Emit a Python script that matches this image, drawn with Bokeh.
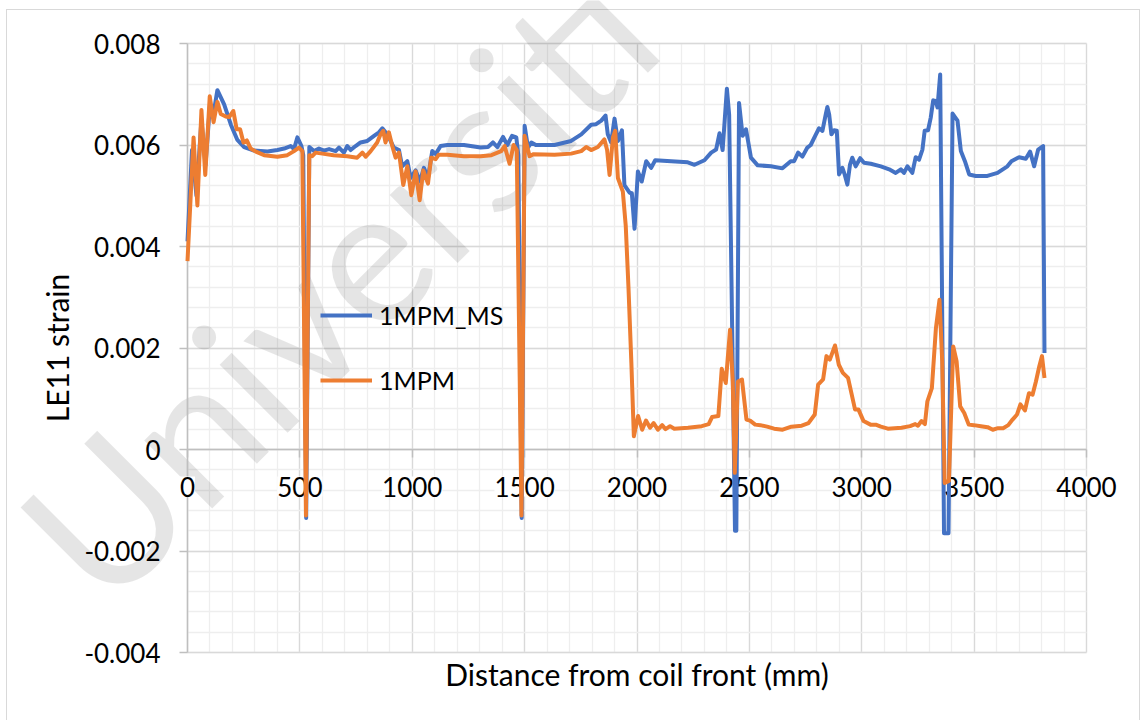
from bokeh.plotting import figure
from bokeh.models import (FixedTicker, LinearAxis, Legend, LegendItem, Label, LabelSet, Grid,
                          ColumnDataSource, CustomJSTickFormatter, Range1d)
from bokeh.core.properties import value
from bokeh.embed import file_html
from bokeh.resources import INLINE

# ---------------- data ----------------
dist_ms = [0, 20, 40, 62, 80, 100, 115, 133, 163, 193, 222, 252, 296, 356, 400, 430, 459, 474, 489, 507,
           515, 528, 542, 563, 585, 607, 630, 659, 674, 696, 711, 726, 748, 770, 800, 830, 852, 867, 881, 896,
           918, 941, 955, 978, 993, 1015, 1034, 1052, 1070, 1089, 1104, 1126, 1156, 1230, 1304, 1337, 1359, 1379, 1404, 1423,
           1444, 1463, 1472, 1487, 1500, 1515, 1530, 1550, 1633, 1707, 1752, 1796, 1818, 1841, 1860, 1870, 1885, 1900, 1915, 1933,
           1944, 1967, 1977, 1989, 2004, 2021, 2041, 2063, 2081, 2152, 2226, 2256, 2300, 2330, 2352, 2367, 2381, 2400, 2410, 2436,
           2442, 2454, 2470, 2485, 2507, 2537, 2596, 2647, 2684, 2699, 2717, 2736, 2758, 2773, 2795, 2810, 2825, 2840, 2847, 2855,
           2865, 2877, 2889, 2899, 2914, 2924, 2936, 2948, 2958, 2973, 2993, 3010, 3040, 3085, 3122, 3151, 3174, 3188, 3203, 3225,
           3240, 3255, 3270, 3280, 3295, 3307, 3318, 3329, 3337, 3349, 3366, 3386, 3404, 3426, 3441, 3459, 3478, 3507, 3559, 3604,
           3648, 3666, 3700, 3730, 3749, 3767, 3785, 3807, 3813]
strain_ms = [0.0041, 0.0059, 0.0050, 0.0065, 0.0056, 0.0068, 0.0066, 0.00708, 0.0068, 0.0064, 0.0061, 0.00596, 0.00589, 0.00587, 0.0059, 0.00593, 0.00598, 0.00592, 0.00615, 0.00598,
             0.0058, -0.00135, 0.00596, 0.00588, 0.00593, 0.00589, 0.00592, 0.00588, 0.00595, 0.00585, 0.00598, 0.0059, 0.00598, 0.00605, 0.00608, 0.00618, 0.00625, 0.00633, 0.00625, 0.00615,
             0.00595, 0.0059, 0.00558, 0.00568, 0.00535, 0.0055, 0.00528, 0.00555, 0.00535, 0.00588, 0.00582, 0.00598, 0.006, 0.006, 0.00595, 0.00596, 0.00605, 0.00596, 0.00616, 0.006,
             0.00618, 0.00615, 0.0058, -0.00135, 0.00638, 0.00595, 0.00605, 0.006, 0.006, 0.00608, 0.00621, 0.0064, 0.00641, 0.00648, 0.00658, 0.00621, 0.00605, 0.00652, 0.00608, 0.00629,
             0.00521, 0.00506, 0.00505, 0.00435, 0.00548, 0.00528, 0.00568, 0.00555, 0.0057, 0.00568, 0.00566, 0.00561, 0.0057, 0.00585, 0.00591, 0.00623, 0.0059, 0.00711, 0.0066, -0.0016,
             -0.0016, 0.00683, 0.00618, 0.00631, 0.00575, 0.0056, 0.00558, 0.00554, 0.00568, 0.00568, 0.00585, 0.00577, 0.00595, 0.006, 0.0062, 0.00633, 0.00628, 0.00661, 0.00675, 0.0066,
             0.00621, 0.00629, 0.00628, 0.00542, 0.00555, 0.00542, 0.00522, 0.00562, 0.00575, 0.00558, 0.00574, 0.00565, 0.00563, 0.00558, 0.00552, 0.00545, 0.00552, 0.00545, 0.00558, 0.00545,
             0.00576, 0.00571, 0.00591, 0.00628, 0.00629, 0.00654, 0.00688, 0.00687, 0.00674, 0.00739, -0.00165, -0.00165, 0.00662, 0.00648, 0.00588, 0.00568, 0.00542, 0.00539, 0.00539, 0.00545,
             0.00558, 0.00568, 0.00576, 0.00573, 0.00587, 0.00558, 0.00591, 0.00598, 0.0019]

dist_mpm = [0, 27, 44, 62, 79, 99, 116, 133, 148, 170, 185, 204, 219, 234, 249, 264, 281, 304, 341, 400,
            444, 474, 496, 511, 527, 542, 555, 570, 600, 650, 711, 755, 778, 793, 815, 844, 859, 871, 881, 896,
            911, 926, 941, 960, 978, 996, 1015, 1033, 1049, 1070, 1084, 1104, 1118, 1156, 1230, 1304, 1352, 1396, 1411, 1433,
            1451, 1465, 1486, 1500, 1522, 1540, 1633, 1707, 1752, 1774, 1796, 1826, 1855, 1867, 1878, 1893, 1903, 1915, 1937, 1950,
            1962, 1975, 1986, 2005, 2023, 2040, 2058, 2074, 2093, 2112, 2127, 2147, 2166, 2227, 2288, 2319, 2334, 2362, 2377, 2395,
            2414, 2426, 2435, 2449, 2467, 2487, 2503, 2526, 2549, 2579, 2610, 2648, 2687, 2733, 2763, 2791, 2806, 2828, 2843, 2858,
            2881, 2898, 2916, 2939, 2970, 2985, 3008, 3039, 3062, 3085, 3116, 3177, 3215, 3238, 3250, 3266, 3281, 3292, 3312, 3330,
            3346, 3358, 3369, 3388, 3407, 3422, 3438, 3456, 3476, 3499, 3530, 3560, 3583, 3606, 3629, 3652, 3671, 3691, 3706, 3726,
            3744, 3760, 3775, 3790, 3802, 3813]
strain_mpm = [0.00371, 0.00615, 0.00481, 0.00669, 0.00541, 0.00696, 0.00645, 0.00685, 0.00661, 0.00656, 0.00655, 0.00667, 0.00631, 0.00631, 0.00605, 0.00609, 0.00593, 0.00587, 0.0058, 0.00577,
              0.0058, 0.00588, 0.00595, 0.00588, -0.0013, 0.0058, 0.00578, 0.00585, 0.00583, 0.0058, 0.00578, 0.00575, 0.00585, 0.00577, 0.00588, 0.00605, 0.00621, 0.00628, 0.00605, 0.00625,
              0.00598, 0.00575, 0.00585, 0.00521, 0.00558, 0.00501, 0.00548, 0.00491, 0.0055, 0.00524, 0.00575, 0.00572, 0.00581, 0.00581, 0.00578, 0.00578, 0.0058, 0.00588, 0.00598, 0.00563,
              0.006, 0.0059, -0.0013, 0.00618, 0.00578, 0.00582, 0.00581, 0.00583, 0.00588, 0.00596, 0.0059, 0.00596, 0.00611, 0.0059, 0.00541, 0.00615, 0.00628, 0.00535, 0.00508, 0.0044,
              0.0032, 0.0017, 0.00026, 0.00066, 0.00039, 0.00057, 0.00043, 0.00052, 0.00039, 0.00048, 0.0004, 0.00046, 0.00041, 0.00043, 0.00046, 0.0005, 0.00064, 0.00066, 0.00159, 0.00131,
              0.00236, 0.00134, -0.00046, 0.00134, 0.00138, 0.00059, 0.00057, 0.00049, 0.00048, 0.00045, 0.00041, 0.00039, 0.00045, 0.00047, 0.00052, 0.00069, 0.00128, 0.00138, 0.00184, 0.00177,
              0.00205, 0.00167, 0.00151, 0.00141, 0.00079, 0.00079, 0.00056, 0.00049, 0.00049, 0.00045, 0.00041, 0.00043, 0.00046, 0.0005, 0.00047, 0.00056, 0.0005, 0.00095, 0.00121, 0.00239,
              0.00295, 0.00174, -0.00066, -0.00062, 0.00203, 0.00174, 0.00085, 0.00072, 0.00049, 0.00048, 0.00046, 0.00044, 0.00039, 0.00042, 0.00042, 0.00048, 0.00059, 0.00069, 0.00089, 0.00077,
              0.00111, 0.00108, 0.00134, 0.00164, 0.00184, 0.00141]

series_names = ["1MPM_MS", "1MPM"]
x_ticks = [0, 500, 1000, 1500, 2000, 2500, 3000, 3500, 4000]
x_tick_labels = ["0", "500", "1000", "1500", "2000", "2500", "3000", "3500", "4000"]
y_ticks = [-0.004, -0.002, 0.0, 0.002, 0.004, 0.006, 0.008]
x_title = "Distance from coil front (mm)"
y_title = "LE11 strain"
watermark = "Universiti"

assert len(dist_ms) == len(strain_ms)
assert len(dist_mpm) == len(strain_mpm)

# ---------------- layout (pixels) ----------------
W, H = 1141, 720
PX_L, PX_R, PX_T, PX_B = 187, 1086, 43, 652      # plot area in canvas pixels
X0, X1 = 0, 4000
Y0, Y1 = -0.004, 0.008
SX = (X1 - X0) / (PX_R - PX_L)
SY = (Y1 - Y0) / (PX_B - PX_T)


def px_to_data(px, py):
    return X0 + (px - PX_L) * SX, Y1 - (py - PX_T) * SY


FONT = "Lato"
BLUE = "#4472C4"
ORANGE = "#ED7D31"
GRID = "#D9D9D9"
MINOR = "#EEEEEE"
AXIS = "#BFBFBF"

# light grey outer chart border drawn behind the transparent canvas
border_css = ("linear-gradient(#D9D9D9,#D9D9D9) 6px 9px / 1px 711px no-repeat, "
              "linear-gradient(#D9D9D9,#D9D9D9) 6px 9px / 1134px 1px no-repeat, "
              "linear-gradient(#D9D9D9,#D9D9D9) 1139px 9px / 1px 711px no-repeat, #FFFFFF")

# the frame covers the whole canvas; axes and grids are bounded to the plot area
p = figure(width=W, height=H, output_backend="svg", toolbar_location=None,
           x_range=Range1d(X0 - PX_L * SX, X1 + (W - PX_R) * SX),
           y_range=Range1d(Y0 - (H - PX_B) * SY, Y1 + PX_T * SY),
           min_border=0, background_fill_color=None, border_fill_color=None,
           outline_line_color=None, styles={"background": border_css})

xaxis = p.xaxis[0]
yaxis = p.yaxis[0]
xaxis.ticker = FixedTicker(ticks=x_ticks, minor_ticks=list(range(0, 4001, 100)))
yaxis.ticker = FixedTicker(ticks=y_ticks, minor_ticks=[round(-0.004 + 0.0004 * i, 6) for i in range(31)])
yaxis.formatter = CustomJSTickFormatter(code="return Math.abs(tick) < 1e-9 ? '0' : tick.toFixed(3);")
xaxis.fixed_location = 0
yaxis.fixed_location = X0
xaxis.bounds = (X0, X1)
yaxis.bounds = (Y0, Y1)

for ax in (xaxis, yaxis):
    ax.axis_line_color = AXIS
    ax.axis_line_width = 1.5
    ax.major_tick_line_color = AXIS
    ax.major_tick_line_width = 1.5
    ax.major_tick_out = 8
    ax.major_tick_in = 0
    ax.minor_tick_out = 0
    ax.minor_tick_in = 0
    ax.minor_tick_line_color = None
    ax.major_label_text_font = FONT
    ax.major_label_text_font_size = "26px"
    ax.major_label_text_color = "#000000"
    ax.major_label_standoff = 19

# x numbers drawn as labels with a white box (like the reference), the axis' own are hidden
xaxis.major_label_text_color = None
xlab_src = ColumnDataSource(dict(x=x_ticks, y=[0] * len(x_ticks), text=x_tick_labels))
xlabels = LabelSet(x="x", y="y", text="text", source=xlab_src, y_offset=-27,
                   text_align="center", text_baseline="top",
                   text_font=value(FONT), text_font_size=value("26px"), text_color="#000000",
                   background_fill_color="white", level="guide")
p.add_layout(xlabels)

yaxis.axis_label = y_title
yaxis.axis_label_text_font = FONT
yaxis.axis_label_text_font_size = "30px"
yaxis.axis_label_text_font_style = "normal"
yaxis.axis_label_text_color = "#000000"
yaxis.axis_label_standoff = 6

title_axis = LinearAxis(ticker=FixedTicker(ticks=[]), axis_label=x_title, fixed_location=Y0,
                        bounds=(X0, X1),
                        axis_line_color=None, major_tick_line_color=None, minor_tick_line_color=None,
                        major_tick_out=0, minor_tick_out=0, major_tick_in=0, minor_tick_in=0,
                        axis_label_text_font=FONT, axis_label_text_font_size="30px",
                        axis_label_text_font_style="normal", axis_label_text_color="#000000",
                        axis_label_standoff=3)
p.add_layout(title_axis, "below")

# grids limited to the plot area
xgrid, ygrid = p.xgrid[0], p.ygrid[0]
for g in (xgrid, ygrid):
    g.grid_line_color = GRID
    g.grid_line_width = 1.3
    g.minor_grid_line_color = MINOR
    g.minor_grid_line_width = 1.3
xgrid.bounds = (X0, X1)
ygrid.bounds = (Y0, Y1)
if "cross_bounds" in Grid.properties():
    xgrid.cross_bounds = (Y0, Y1)
    ygrid.cross_bounds = (X0, X1)
else:
    xgrid.visible = False
    ygrid.visible = False
    xm = list(range(0, 4001, 100))
    ym = [round(-0.004 + 0.0004 * i, 6) for i in range(31)]
    p.segment(x0=xm, y0=[Y0] * len(xm), x1=xm, y1=[Y1] * len(xm), line_color=MINOR, line_width=1.3, level="underlay")
    p.segment(x0=[X0] * len(ym), y0=ym, x1=[X1] * len(ym), y1=ym, line_color=MINOR, line_width=1.3, level="underlay")
    p.segment(x0=x_ticks, y0=[Y0] * len(x_ticks), x1=x_ticks, y1=[Y1] * len(x_ticks), line_color=GRID, line_width=1.3, level="underlay")
    p.segment(x0=[X0] * len(y_ticks), y0=y_ticks, x1=[X1] * len(y_ticks), y1=y_ticks, line_color=GRID, line_width=1.3, level="underlay")

# watermark (light grey text)
wx, wy = px_to_data(53, 562)
wm = Label(x=wx, y=wy, text=watermark, angle=45, angle_units="deg",
           text_font=FONT, text_font_size="190px", text_color="black", text_alpha=0.1,
           text_align="left", text_baseline="alphabetic", level="underlay")
p.add_layout(wm)

# data lines
r1 = p.line(dist_ms, strain_ms, line_color=BLUE, line_width=4, line_join="round", level="annotation")
r2 = p.line(dist_mpm, strain_mpm, line_color=ORANGE, line_width=4, line_join="round", level="annotation")

legend = Legend(items=[LegendItem(label=series_names[0], renderers=[r1]),
                       LegendItem(label=series_names[1], renderers=[r2])],
                location=(320, 325), background_fill_alpha=0, border_line_color=None,
                label_text_font=FONT, label_text_font_size="25px", label_text_color="#000000",
                glyph_width=52, glyph_height=30, label_height=30, label_standoff=7,
                spacing=35, padding=10, margin=0)
p.add_layout(legend, "center")

open("out.html", "w").write(file_html(p, INLINE))
